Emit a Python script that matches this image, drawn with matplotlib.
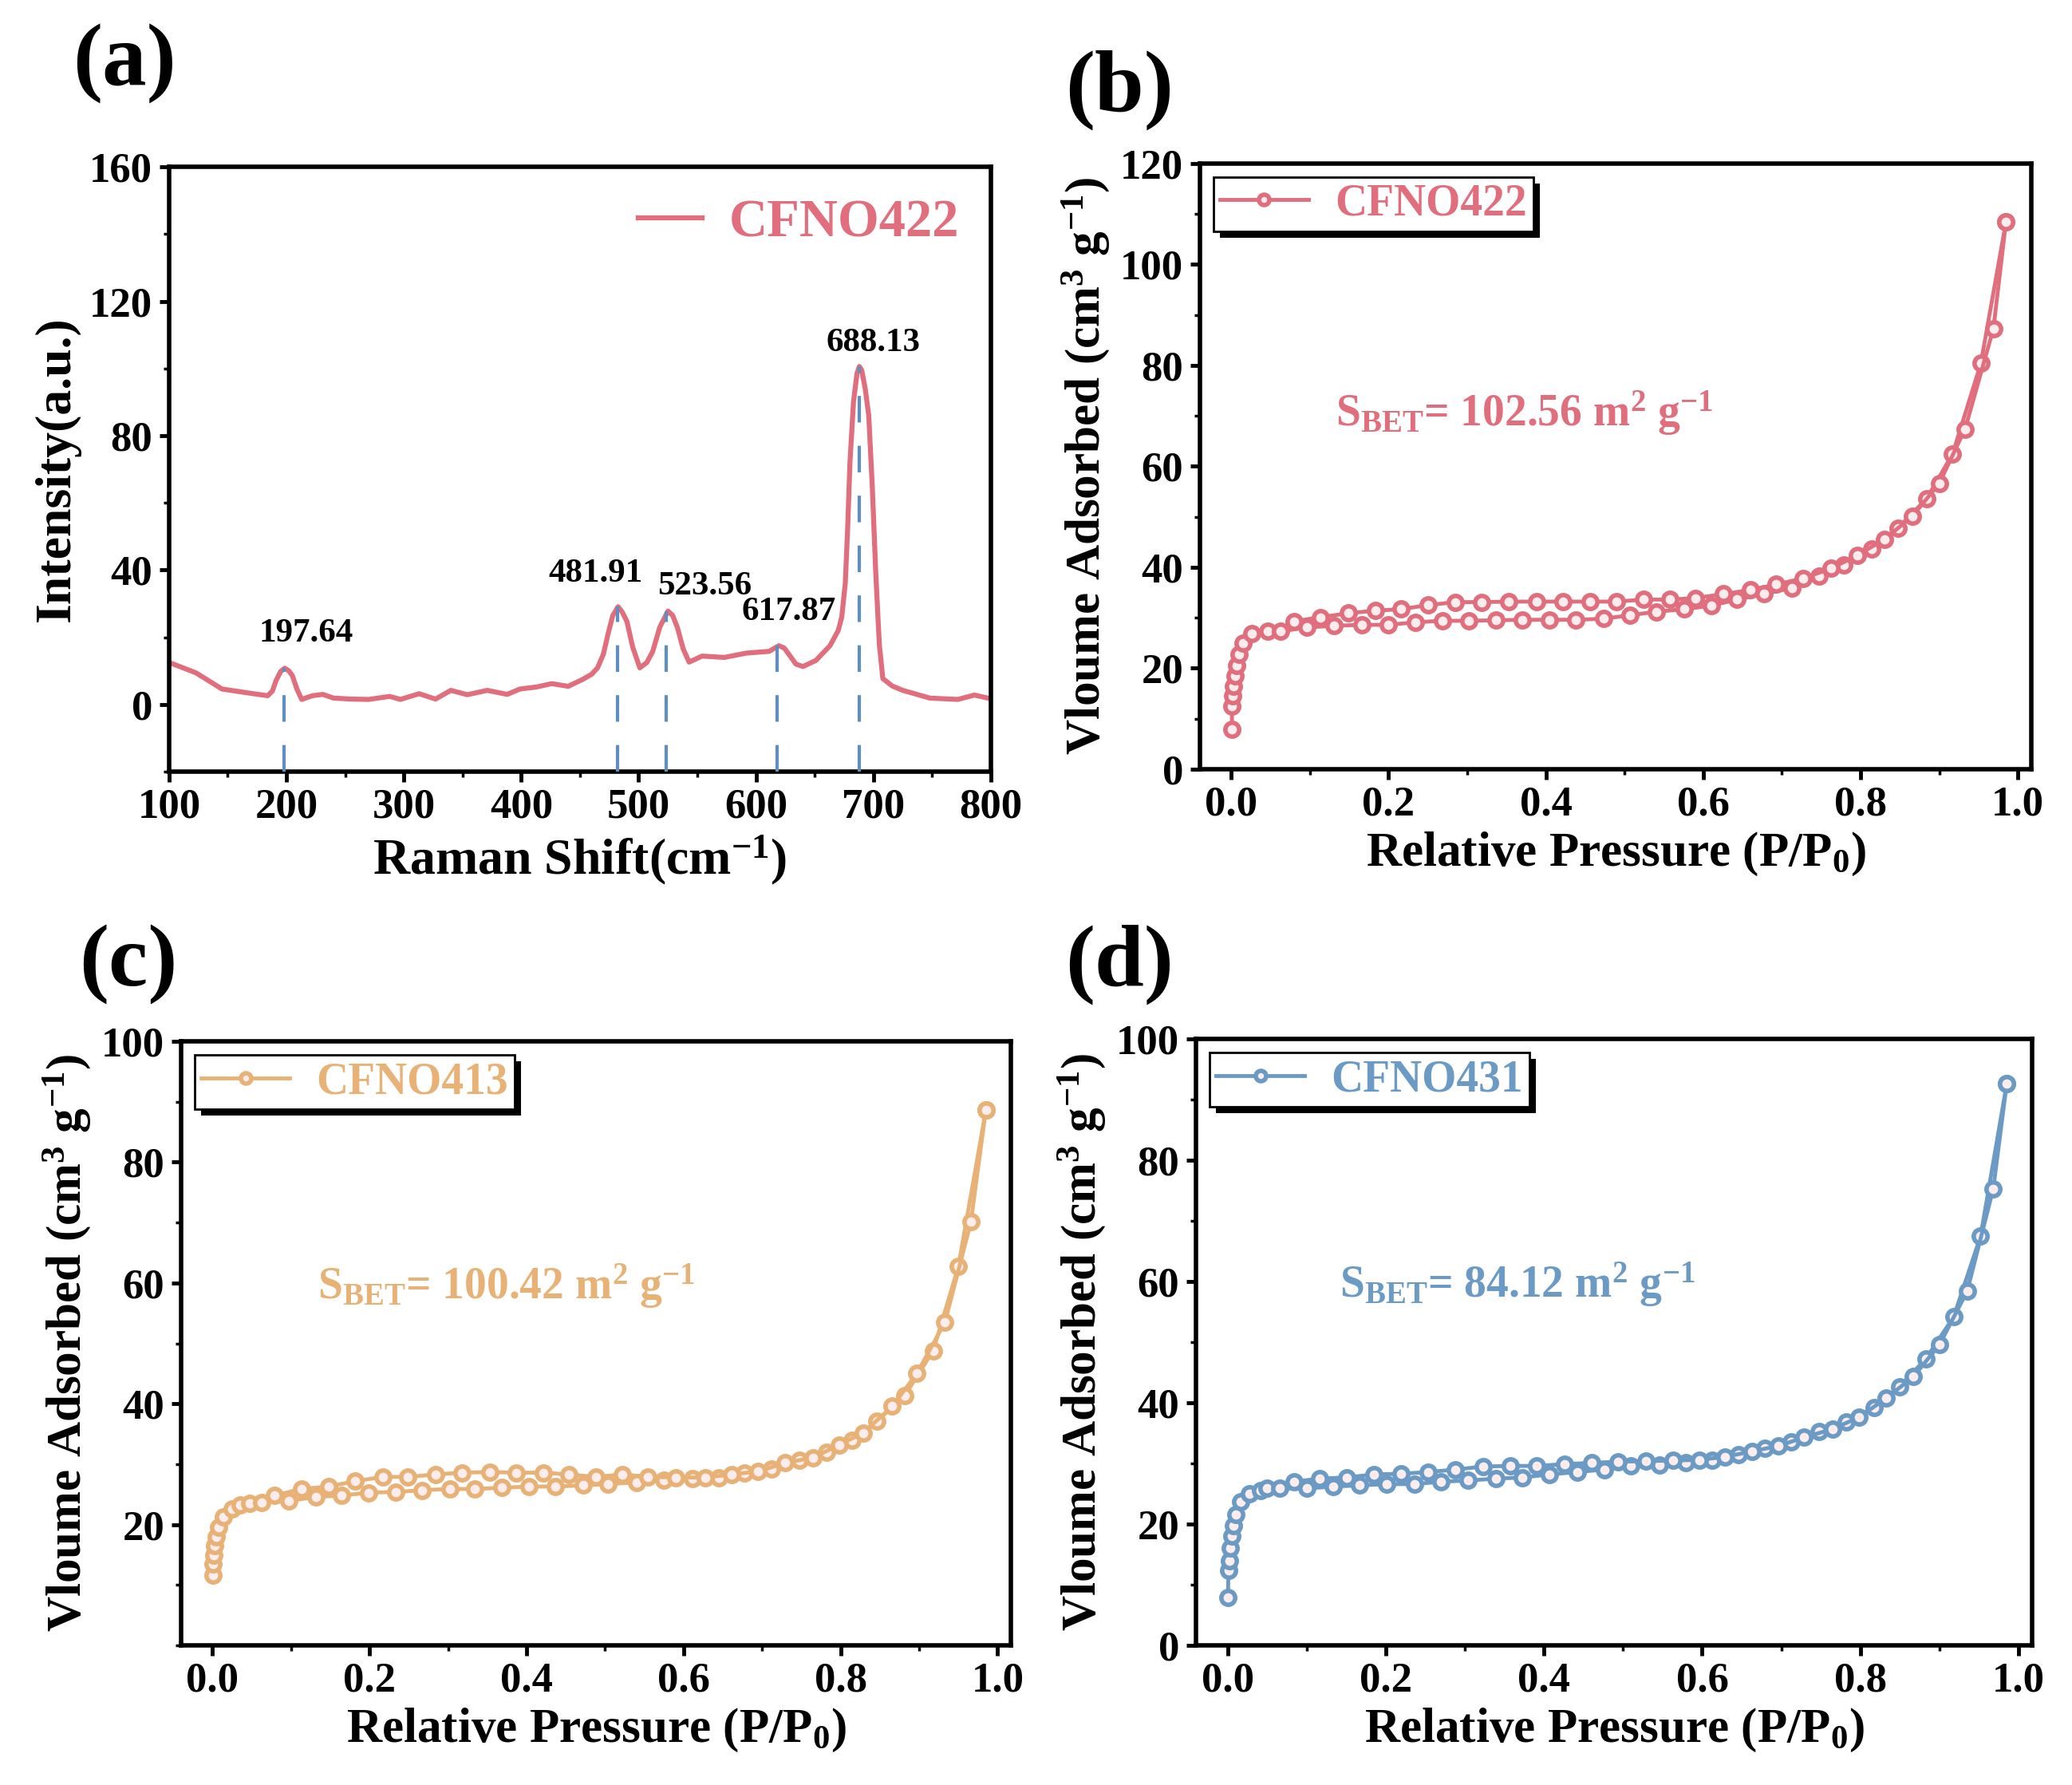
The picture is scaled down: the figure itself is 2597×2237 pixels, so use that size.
import numpy as np
import matplotlib
matplotlib.use("Agg")
import matplotlib.pyplot as plt
from matplotlib.patches import Rectangle
from matplotlib.transforms import IdentityTransform
from matplotlib.ticker import MultipleLocator

plt.rcParams['font.family'] = ['Liberation Serif', 'DejaVu Serif']
plt.rcParams['font.weight'] = 'bold'
plt.rcParams['mathtext.fontset'] = 'custom'
plt.rcParams['mathtext.rm'] = 'Liberation Serif:bold'
plt.rcParams['mathtext.it'] = 'Liberation Serif:bold'
plt.rcParams['mathtext.bf'] = 'Liberation Serif:bold'

RED = '#E06E7D'
ORANGE = '#E8B277'
BLUE = '#6B9AC4'
DASH = '#5E8FC0'

# ---- (a) Raman spectrum, CFNO422 ----
raman_x = [100, 103, 123, 145, 168, 184, 188, 191, 195, 198.5, 202, 205, 209, 213, 222, 231,
           240, 255, 270, 288, 297, 313, 327, 340, 354, 371, 388, 399, 413, 426, 440, 452,
           460, 465, 470, 474, 478, 482.5, 486, 490, 495, 501, 507, 512, 518, 525, 529, 533,
           538, 543, 554, 573, 592, 611, 619.5, 624, 628, 634, 640, 651, 663, 670, 673, 676,
           678, 680, 683, 686, 688, 690, 693, 696, 699, 702, 705, 708, 716, 725, 748, 772,
           786, 800]
raman_y = [12.5, 12.1, 9.4, 4.6, 3.4, 2.6, 4.0, 7.0, 9.8, 10.8, 10.0, 8.6, 4.5, 1.5, 2.6, 3.0,
           1.9, 1.6, 1.5, 2.4, 1.5, 3.2, 1.6, 4.2, 2.9, 4.2, 3.0, 4.6, 5.2, 6.2, 5.4, 7.4,
           9.0, 10.9, 15.0, 21.1, 26.5, 29.1, 27.5, 24.7, 17.0, 10.9, 12.5, 15.8, 23.0, 27.8, 26.5, 22.9,
           16.5, 12.6, 14.4, 14.0, 15.3, 15.8, 17.5, 16.8, 14.9, 12.0, 11.3, 13.1, 17.5, 22.0, 26.0, 36.0,
           52.0, 72.0, 90.0, 98.5, 100.6, 99.5, 94.0, 86.0, 65.0, 39.0, 18.0, 7.7, 5.5, 4.2, 1.9, 1.5,
           2.8, 1.7]
peak_pos = [197.64, 481.91, 523.56, 617.87, 688.13]
peak_top = [10.8, 29.1, 27.8, 17.5, 100.6]
peak_labels = ['197.64', '481.91', '523.56', '617.87', '688.13']
peak_label_x = [217, 463, 556, 628, 700]
peak_label_y = [21, 39, 35, 27.5, 107.5]

# ---- (b) CFNO422 isotherm ----
b_ads_x = [0.0005, 0.001, 0.002, 0.003, 0.005, 0.007, 0.01, 0.015, 0.026, 0.046, 0.063, 0.096,
           0.131, 0.166, 0.200, 0.234, 0.268, 0.302, 0.336, 0.370, 0.404, 0.438, 0.473, 0.507,
           0.540, 0.576, 0.610, 0.643, 0.677, 0.713, 0.747, 0.779, 0.814, 0.848, 0.884, 0.917,
           0.953, 0.985]
b_ads_y = [7.9, 12.5, 14.5, 16.5, 18.5, 20.5, 22.8, 24.9, 26.8, 27.3, 27.3, 28.1,
           28.4, 28.6, 28.6, 29.1, 29.4, 29.4, 29.5, 29.6, 29.6, 29.6, 29.8, 30.5,
           31.2, 31.7, 32.4, 33.6, 34.7, 35.9, 38.2, 40.5, 43.6, 47.8, 53.6, 62.4,
           80.4, 108.5]
b_des_x = [0.985, 0.969, 0.933, 0.900, 0.866, 0.830, 0.796, 0.763, 0.727, 0.693, 0.660, 0.626,
           0.590, 0.558, 0.524, 0.490, 0.456, 0.422, 0.388, 0.353, 0.318, 0.285, 0.250, 0.216,
           0.183, 0.149, 0.113, 0.080]
b_des_y = [108.5, 87.3, 67.4, 56.6, 50.1, 45.5, 42.4, 39.8, 37.8, 36.6, 35.5, 34.7,
           33.9, 33.6, 33.6, 33.2, 33.2, 33.2, 33.2, 33.2, 33.1, 33.1, 32.5, 31.7,
           31.4, 30.9, 30.1, 29.3]

# ---- (c) CFNO413 isotherm ----
c_ads_x = [0.0005, 0.001, 0.002, 0.003, 0.005, 0.008, 0.014, 0.025, 0.035, 0.047, 0.063, 0.097,
           0.132, 0.164, 0.199, 0.233, 0.267, 0.302, 0.334, 0.369, 0.403, 0.437, 0.472, 0.504,
           0.540, 0.575, 0.611, 0.645, 0.678, 0.712, 0.748, 0.782, 0.815, 0.846, 0.882, 0.918,
           0.950, 0.985]
c_ads_y = [11.6, 13.5, 15.0, 16.5, 18.0, 19.5, 21.3, 22.6, 23.2, 23.5, 23.7, 23.9,
           24.6, 24.8, 25.3, 25.4, 25.7, 25.9, 25.9, 26.1, 26.3, 26.3, 26.5, 26.7,
           27.0, 27.3, 27.6, 27.8, 28.5, 29.2, 30.6, 32.0, 33.9, 37.1, 41.4, 48.8,
           62.7, 88.6]
c_des_x = [0.985, 0.966, 0.933, 0.897, 0.866, 0.829, 0.798, 0.765, 0.729, 0.695, 0.661, 0.628,
           0.590, 0.555, 0.522, 0.488, 0.454, 0.421, 0.387, 0.353, 0.318, 0.284, 0.249, 0.217,
           0.182, 0.148, 0.113, 0.079]
c_des_y = [88.6, 70.1, 53.5, 45.0, 39.6, 35.2, 33.2, 31.1, 30.2, 28.8, 28.3, 27.8,
           27.8, 27.9, 28.3, 27.9, 28.3, 28.6, 28.6, 28.7, 28.6, 28.3, 27.9, 27.9,
           27.2, 26.3, 25.9, 24.8]

# ---- (d) CFNO431 isotherm ----
d_ads_x = [0.0005, 0.001, 0.002, 0.003, 0.005, 0.007, 0.01, 0.017, 0.028, 0.042, 0.050, 0.066,
           0.100, 0.134, 0.167, 0.201, 0.236, 0.270, 0.304, 0.339, 0.373, 0.407, 0.442, 0.476,
           0.510, 0.546, 0.579, 0.613, 0.646, 0.679, 0.713, 0.748, 0.782, 0.817, 0.850, 0.883,
           0.918, 0.952, 0.985]
d_ads_y = [7.9, 12.4, 14.0, 16.0, 18.0, 19.8, 21.6, 23.7, 25.0, 25.5, 25.9, 25.9,
           25.9, 26.2, 26.4, 26.6, 26.6, 27.0, 27.2, 27.5, 27.7, 28.2, 28.6, 29.0,
           29.6, 29.7, 30.1, 30.6, 31.5, 32.5, 33.6, 35.3, 36.9, 39.2, 42.7, 47.3,
           54.2, 67.5, 92.6]
d_des_x = [0.985, 0.968, 0.935, 0.900, 0.867, 0.833, 0.798, 0.765, 0.729, 0.696, 0.663, 0.629,
           0.596, 0.563, 0.529, 0.494, 0.460, 0.426, 0.391, 0.357, 0.323, 0.288, 0.254, 0.219,
           0.185, 0.151, 0.116, 0.084]
d_des_y = [92.6, 75.3, 58.4, 49.6, 44.3, 40.8, 37.6, 35.7, 34.3, 32.9, 32.0, 31.1,
           30.6, 30.5, 30.4, 30.3, 30.1, 29.9, 29.6, 29.6, 29.5, 29.0, 28.6, 28.3,
           28.2, 27.7, 27.5, 27.0]

TICK_FS = 38
LABEL_FS = 44
BET_YLABEL = 'Vloume Adsorbed (cm$^{3}$ g$^{-1}$)'
BET_XLABEL = 'Relative Pressure (P/P$_{0}$)'


def style_axes(ax):
    for sp in ax.spines.values():
        sp.set_linewidth(4)
    ax.tick_params(which='major', direction='out', length=9, width=3.5,
                   labelsize=TICK_FS, pad=6, top=False, right=False)
    ax.tick_params(which='minor', direction='out', length=5, width=2.5,
                   top=False, right=False)
    for lab in ax.get_xticklabels() + ax.get_yticklabels():
        lab.set_fontweight('bold')


def shadow_legend(fig, ax, leg, off=8):
    fig.canvas.draw()
    bb = leg.get_window_extent()
    rect = Rectangle((bb.x0 + off, bb.y0 - off), bb.width, bb.height,
                     transform=IdentityTransform(), facecolor='black',
                     edgecolor='none', zorder=leg.get_zorder() - 0.5, clip_on=False)
    ax.add_artist(rect)


def plot_bet(ax, ads_x, ads_y, des_x, des_y, color, label, sbet, sbet_xy, ylim, yticks):
    kw = dict(color=color, lw=3.5, marker='o', ms=12.5, mew=4, mfc='#fbecee')
    ax.plot(ads_x, ads_y, label=label, **kw)
    ax.plot(des_x, des_y, **kw)
    ax.set_xlim(-0.04, 1.017)
    ax.set_ylim(*ylim)
    ax.set_xticks([0.0, 0.2, 0.4, 0.6, 0.8, 1.0])
    ax.set_xticklabels(['0.0', '0.2', '0.4', '0.6', '0.8', '1.0'])
    ax.xaxis.set_minor_locator(MultipleLocator(0.1))
    ax.set_yticks(yticks)
    ax.yaxis.set_minor_locator(MultipleLocator(10))
    ax.set_xlabel(BET_XLABEL, fontsize=LABEL_FS, fontweight='bold', labelpad=6)
    ax.set_ylabel(BET_YLABEL, fontsize=LABEL_FS, fontweight='bold', labelpad=8)
    ax.text(sbet_xy[0], sbet_xy[1], sbet, color=color, fontsize=40, fontweight='bold',
            ha='left', va='center')
    style_axes(ax)
    leg = ax.legend(loc='upper left', fontsize=40, frameon=True, fancybox=False,
                    edgecolor='black', facecolor='white', framealpha=1.0,
                    borderaxespad=0.3, handlelength=2.0,
                    handletextpad=0.6, borderpad=0.15, numpoints=1, markerscale=0.75)
    leg.get_frame().set_linewidth(2)
    for t in leg.get_texts():
        t.set_color(color)
        t.set_fontweight('bold')
    return leg


fig = plt.figure(figsize=(25.97, 22.37), dpi=100)
ax_a = fig.add_axes([0.0816, 0.5677, 0.3966, 0.3388])
ax_b = fig.add_axes([0.5791, 0.5691, 0.4012, 0.3393])
ax_c = fig.add_axes([0.0874, 0.0782, 0.4005, 0.3384])
ax_d = fig.add_axes([0.5772, 0.0782, 0.4035, 0.3397])

# (a)
ax_a.plot(raman_x, raman_y, color=RED, lw=4.5, label='CFNO422')
ax_a.vlines(peak_pos, -20, peak_top, colors=DASH, linestyles=(0, (8, 7)), lw=3, zorder=3)
for lx, ly, s in zip(peak_label_x, peak_label_y, peak_labels):
    ax_a.text(lx, ly, s, fontsize=31, fontweight='bold', ha='center', va='center')
ax_a.set_xlim(100, 800)
ax_a.set_ylim(-20, 160)
ax_a.set_xticks(range(100, 801, 100))
ax_a.set_yticks([0, 40, 80, 120, 160])
ax_a.xaxis.set_minor_locator(MultipleLocator(50))
ax_a.yaxis.set_minor_locator(MultipleLocator(20))
ax_a.set_xlabel('Raman Shift(cm$^{-1}$)', fontsize=LABEL_FS + 2, fontweight='bold', labelpad=6)
ax_a.set_ylabel('Intensity(a.u.)', fontsize=LABEL_FS + 2, fontweight='bold', labelpad=8)
style_axes(ax_a)
leg_a = ax_a.legend(loc='upper right', fontsize=48, frameon=False, handlelength=1.2,
                    handletextpad=0.5, borderaxespad=0.2)
for t in leg_a.get_texts():
    t.set_color(RED)

leg_b = plot_bet(ax_b, b_ads_x, b_ads_y, b_des_x, b_des_y, RED, 'CFNO422',
                 'S$_{\\rm BET}$= 102.56 m$^{2}$ g$^{-1}$', (0.133, 70.5),
                 (0, 120), [0, 20, 40, 60, 80, 100, 120])
leg_c = plot_bet(ax_c, c_ads_x, c_ads_y, c_des_x, c_des_y, ORANGE, 'CFNO413',
                 'S$_{\\rm BET}$= 100.42 m$^{2}$ g$^{-1}$', (0.134, 59.5),
                 (0, 100), [20, 40, 60, 80, 100])
leg_d = plot_bet(ax_d, d_ads_x, d_ads_y, d_des_x, d_des_y, BLUE, 'CFNO431',
                 'S$_{\\rm BET}$= 84.12 m$^{2}$ g$^{-1}$', (0.142, 59.5),
                 (0, 100), [0, 20, 40, 60, 80, 100])

for ax, leg in [(ax_b, leg_b), (ax_c, leg_c), (ax_d, leg_d)]:
    shadow_legend(fig, ax, leg)

# panel letters
W, H = 2597, 2237
for s, px, py in [('(a)', 91, 80), ('(b)', 1335, 113), ('(c)', 99, 1209), ('(d)', 1335, 1209)]:
    fig.text(px / W, 1 - py / H, s, fontsize=80, fontweight='bold', ha='left', va='center')

fig.savefig('out.png', dpi=100)
